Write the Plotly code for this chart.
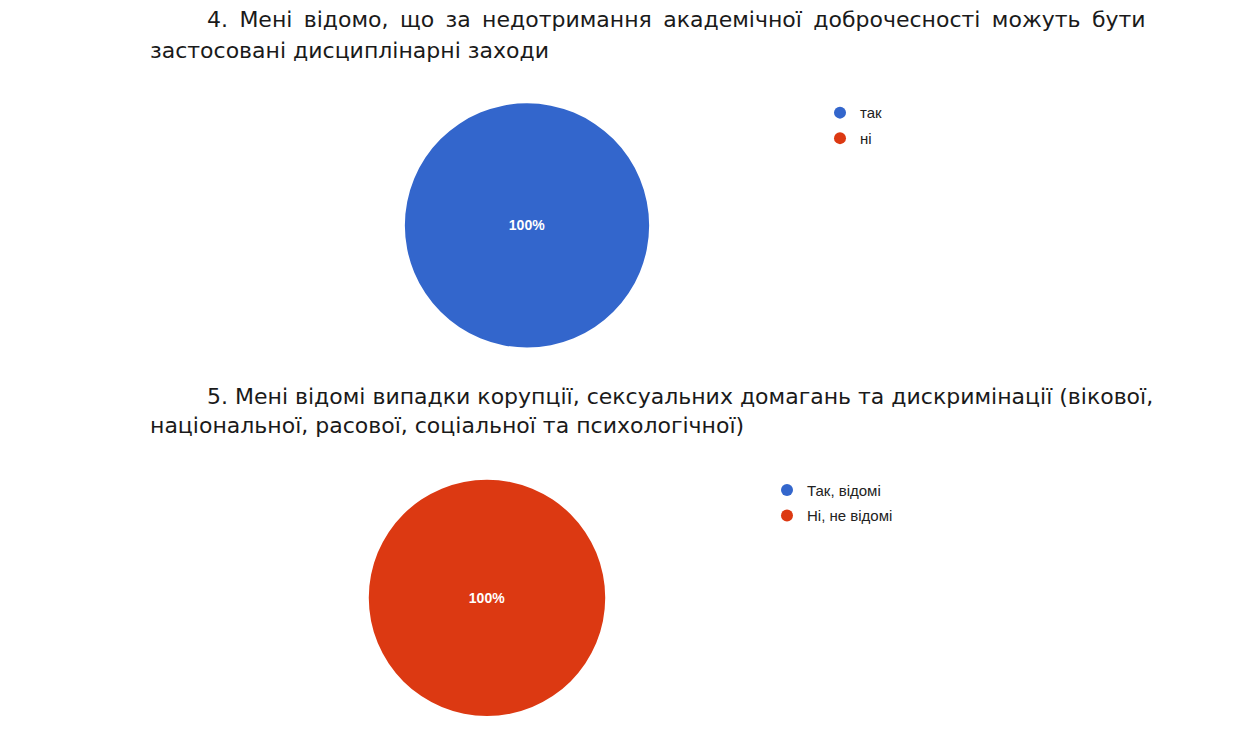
import plotly.graph_objects as go

# питання 4
q4_title = ["4. Мені відомо, що за недотримання академічної доброчесності можуть бути",
            "застосовані дисциплінарні заходи"]
q4_labels = ["так", "ні"]
q4_values = [100, 0]

# питання 5
q5_title = ["5. Мені відомі випадки корупції, сексуальних домагань та дискримінації (вікової,",
            "національної, расової, соціальної та психологічної)"]
q5_labels = ["Так, відомі", "Ні, не відомі"]
q5_values = [0, 100]

colors = ["#3366CC", "#DC3912"]

# the page body has an 8px margin, so work in page pixels and shift
OFF = 8
W, H = 1241 - 2 * OFF, 729 - 2 * OFF


def px_x(v):
    return (v - OFF) / W


def px_y(v):
    return 1 - (v - OFF) / H


def justify(line, extra):
    # stretch word gaps a little, like the justified doc text
    return (" " + extra).join(line.split(" "))


fig = go.Figure()

pies = [
    (q4_labels, q4_values, (404, 650), (104, 350), "legend"),
    (q5_labels, q5_values, (368, 606), (483, 721), "legend2"),
]
for labels, values, (x0, x1), (y0, y1), leg in pies:
    fig.add_trace(go.Pie(
        labels=labels, values=values, sort=False, direction="clockwise",
        marker=dict(colors=colors, line=dict(width=0)),
        textinfo="percent", texttemplate="%{percent:.0%}",
        textfont=dict(family="Arial, Liberation Sans", size=14, color="white", weight="bold"),
        domain=dict(x=[px_x(x0), px_x(x1)], y=[px_y(y1), px_y(y0)]),
        showlegend=False, hoverinfo="label+percent",
    ))
    # round legend markers like the original
    for lab, col in zip(labels, colors):
        fig.add_trace(go.Scatter(
            x=[None], y=[None], mode="markers", name=lab,
            marker=dict(symbol="circle", size=15, color=col),
            legend=leg, legendgroup=lab, showlegend=True, hoverinfo="skip",
        ))

legend_style = dict(font=dict(family="Arial, Liberation Sans", size=15, color="#222222"),
                    bgcolor="rgba(0,0,0,0)", itemsizing="constant", itemwidth=30,
                    xanchor="left", yanchor="top", tracegroupgap=3)

title_font = dict(family="DejaVu Sans", size=22, color="#1a1a1a")
annotations = []
for lines, top, gap, extra in [(q4_title, 20, 31, "\u2009"), (q5_title, 399, 29, "")]:
    annotations.append(dict(text=justify(lines[0], extra), x=px_x(205), y=px_y(top),
                            xref="paper", yref="paper",
                            xanchor="left", yanchor="middle", showarrow=False, font=title_font))
    annotations.append(dict(text=lines[1], x=px_x(148), y=px_y(top + gap),
                            xref="paper", yref="paper",
                            xanchor="left", yanchor="middle", showarrow=False, font=title_font))

fig.update_layout(
    width=W, height=H,
    margin=dict(l=0, r=0, t=0, b=0),
    paper_bgcolor="white", plot_bgcolor="white",
    xaxis=dict(visible=False), yaxis=dict(visible=False),
    legend=dict(x=px_x(820), y=px_y(97), **legend_style),
    legend2=dict(x=px_x(767), y=px_y(477), **legend_style),
    annotations=annotations,
)

fig.write_html("out.html")
